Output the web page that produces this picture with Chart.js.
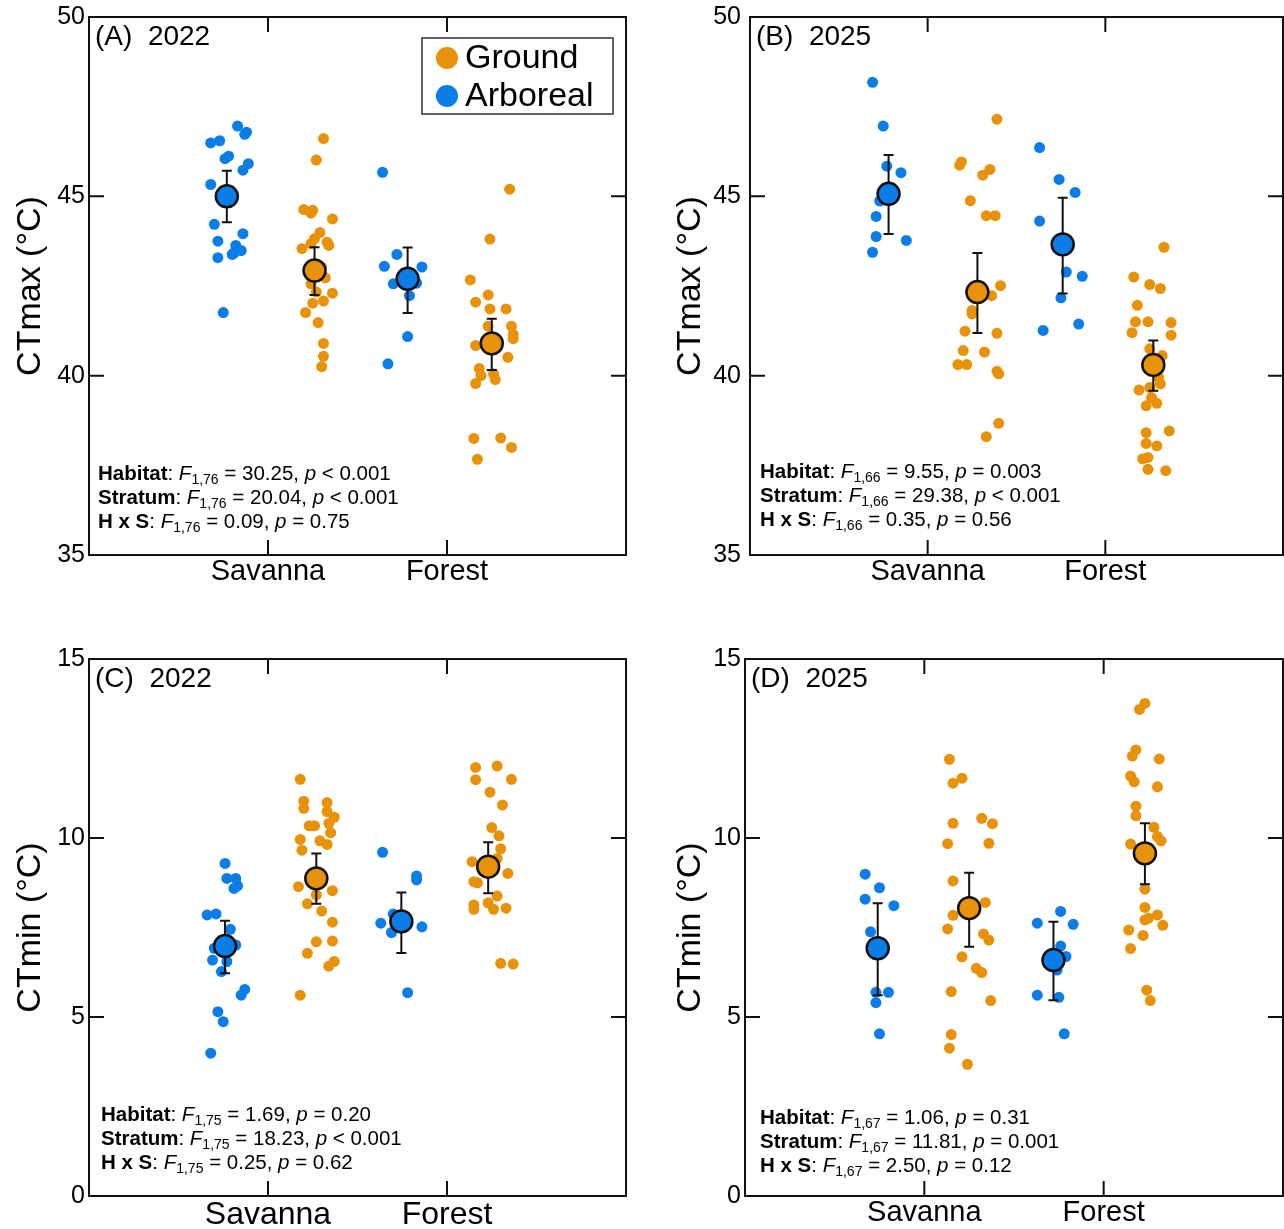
<!DOCTYPE html>
<html>
<head>
<meta charset="utf-8">
<script src="https://cdn.jsdelivr.net/npm/chart.js@4.4.1/dist/chart.umd.min.js"></script>
<style>
  html, body { margin: 0; padding: 0; background: #fff; }
  body { width: 1284px; height: 1229px; position: relative; overflow: hidden; }
  canvas { position: absolute; }
</style>
</head>
<body>
<canvas id="panelA" width="642" height="600" style="left:0;top:0"></canvas>
<canvas id="panelB" width="624" height="600" style="left:660px;top:0"></canvas>
<canvas id="panelC" width="642" height="599" style="left:0;top:630px"></canvas>
<canvas id="panelD" width="624" height="599" style="left:660px;top:630px"></canvas>
<script>
const categories = [ 'Savanna', 'Forest' ]
const seriesNames = [ 'Ground', 'Arboreal' ]
const ORANGE = '#E8920A'
const BLUE = '#0A7DE8'
const FONT = '"Liberation Sans", Arial, Helvetica, sans-serif'

// (A) 2022, CTmax
const aArbSavY = [ 46.96, 46.79, 46.73, 46.49, 46.55, 46.05, 46.12, 45.91, 45.73, 45.33, 44.22, 43.96, 43.75, 43.63, 43.49, 43.42, 43.38, 43.29, 41.76 ]
const aArbSavX = [ 0.83, 0.88, 0.87, 0.68, 0.73, 0.76, 0.78, 0.89, 0.86, 0.68, 0.70, 0.86, 0.72, 0.82, 0.85, 0.81, 0.80, 0.72, 0.75 ]
const aGrdSavY = [ 46.61, 46.01, 44.63, 44.61, 44.53, 44.37, 43.99, 43.82, 43.68, 43.72, 43.63, 43.54, 43.03, 42.73, 42.56, 42.33, 42.30, 42.08, 42.02, 41.76, 41.48, 40.90, 40.54, 40.25 ]
const aGrdSavX = [ 1.31, 1.27, 1.20, 1.25, 1.24, 1.36, 1.29, 1.26, 1.24, 1.33, 1.34, 1.19, 1.30, 1.32, 1.24, 1.27, 1.36, 1.31, 1.25, 1.21, 1.28, 1.31, 1.31, 1.30 ]
const aArbForY = [ 45.67, 43.38, 43.05, 43.03, 42.56, 42.58, 42.23, 41.09, 40.33 ]
const aArbForX = [ 1.64, 1.72, 1.65, 1.86, 1.70, 1.83, 1.79, 1.78, 1.67 ]
const aGrdForY = [ 45.20, 43.81, 42.67, 42.25, 42.05, 41.86, 41.86, 41.38, 41.38, 41.15, 41.03, 40.84, 40.51, 40.20, 40.00, 39.78, 40.05, 39.89, 38.25, 38.26, 38.00, 37.67 ]
const aGrdForX = [ 2.35, 2.24, 2.13, 2.23, 2.16, 2.24, 2.33, 2.23, 2.36, 2.37, 2.37, 2.16, 2.34, 2.18, 2.19, 2.16, 2.26, 2.27, 2.15, 2.30, 2.36, 2.17 ]
const aArbMean = [ 45.00, 42.70 ]
const aArbMeanX = [ 0.77, 1.78 ]
const aArbSE = [ [ 44.28, 45.71 ], [ 41.75, 43.57 ] ]
const aGrdMean = [ 42.93, 40.90 ]
const aGrdMeanX = [ 1.26, 2.25 ]
const aGrdSE = [ [ 42.25, 43.58 ], [ 40.16, 41.59 ] ]
const aStats = [ [ 'Habitat', '1,76', '30.25', '<', '0.001' ], [ 'Stratum', '1,76', '20.04', '<', '0.001' ], [ 'H x S', '1,76', '0.09', '=', '0.75' ] ]

// (B) 2025, CTmax
const bArbSavY = [ 48.18, 46.96, 45.84, 45.66, 44.87, 44.44, 43.88, 43.77, 43.44 ]
const bArbSavX = [ 0.69, 0.75, 0.77, 0.85, 0.73, 0.71, 0.71, 0.88, 0.69 ]
const bGrdSavY = [ 47.15, 45.96, 45.87, 45.75, 45.59, 44.88, 44.46, 44.46, 42.51, 42.23, 41.82, 41.72, 41.24, 41.18, 40.70, 40.66, 40.31, 40.31, 40.12, 40.05, 38.67, 38.30 ]
const bGrdSavX = [ 1.39, 1.19, 1.18, 1.35, 1.31, 1.24, 1.33, 1.38, 1.41, 1.36, 1.25, 1.25, 1.21, 1.39, 1.20, 1.32, 1.17, 1.22, 1.39, 1.40, 1.40, 1.33 ]
const bArbForY = [ 46.36, 45.47, 45.11, 44.31, 42.89, 42.77, 42.17, 41.44, 41.26 ]
const bArbForX = [ 1.63, 1.74, 1.83, 1.63, 1.78, 1.87, 1.75, 1.85, 1.65 ]
const bGrdForY = [ 43.58, 42.75, 42.54, 42.43, 41.96, 41.50, 41.50, 41.48, 41.20, 41.13, 40.75, 40.56, 39.95, 39.77, 39.67, 39.60, 39.39, 39.16, 39.23, 38.41, 38.46, 38.11, 38.04, 37.68, 37.72, 37.39, 37.35 ]
const bGrdForX = [ 2.33, 2.16, 2.25, 2.31, 2.18, 2.17, 2.24, 2.37, 2.15, 2.37, 2.25, 2.32, 2.30, 2.31, 2.25, 2.19, 2.26, 2.23, 2.29, 2.23, 2.36, 2.23, 2.29, 2.21, 2.24, 2.24, 2.34 ]
const bArbMean = [ 45.07, 43.66 ]
const bArbMeanX = [ 0.78, 1.76 ]
const bArbSE = [ [ 43.95, 46.15 ], [ 42.29, 44.96 ] ]
const bGrdMean = [ 42.33, 40.30 ]
const bGrdMeanX = [ 1.28, 2.27 ]
const bGrdSE = [ [ 41.19, 43.42 ], [ 39.58, 40.98 ] ]
const bStats = [ [ 'Habitat', '1,66', '9.55', '=', '0.003' ], [ 'Stratum', '1,66', '29.38', '<', '0.001' ], [ 'H x S', '1,66', '0.35', '=', '0.56' ] ]

// (C) 2022, CTmin
const cArbSavY = [ 9.29, 8.87, 8.87, 8.59, 8.66, 7.85, 7.88, 7.45, 6.92, 7.01, 6.59, 6.55, 6.27, 5.77, 5.61, 5.15, 4.87, 3.99 ]
const cArbSavX = [ 0.76, 0.77, 0.82, 0.81, 0.83, 0.66, 0.71, 0.79, 0.70, 0.82, 0.69, 0.77, 0.74, 0.87, 0.85, 0.72, 0.75, 0.68 ]
const cGrdSavY = [ 11.64, 11.03, 10.83, 10.99, 10.74, 10.58, 10.41, 10.34, 10.34, 10.15, 9.96, 9.92, 9.82, 9.66, 8.64, 8.53, 8.41, 8.16, 7.96, 7.65, 7.10, 7.12, 6.78, 6.55, 6.42, 5.61 ]
const cGrdSavX = [ 1.18, 1.20, 1.20, 1.33, 1.33, 1.37, 1.34, 1.23, 1.26, 1.35, 1.18, 1.29, 1.33, 1.19, 1.17, 1.36, 1.27, 1.22, 1.30, 1.36, 1.27, 1.36, 1.22, 1.37, 1.34, 1.18 ]
const cArbForY = [ 9.60, 8.94, 8.83, 7.88, 7.62, 7.52, 7.36, 5.68 ]
const cArbForX = [ 1.64, 1.83, 1.83, 1.70, 1.63, 1.86, 1.69, 1.78 ]
const cGrdForY = [ 11.97, 12.01, 11.63, 11.64, 11.28, 10.92, 10.29, 10.06, 9.70, 9.43, 9.34, 9.01, 8.78, 8.75, 8.38, 8.19, 8.13, 8.01, 8.01, 8.04, 6.50, 6.48 ]
const cGrdForX = [ 2.16, 2.28, 2.16, 2.36, 2.24, 2.31, 2.25, 2.29, 2.30, 2.28, 2.14, 2.34, 2.15, 2.17, 2.28, 2.23, 2.15, 2.15, 2.26, 2.33, 2.30, 2.37 ]
const cArbMean = [ 6.98, 7.67 ]
const cArbMeanX = [ 0.76, 1.745 ]
const cArbSE = [ [ 6.22, 7.69 ], [ 6.79, 8.48 ] ]
const cGrdMean = [ 8.87, 9.20 ]
const cGrdMeanX = [ 1.27, 2.23 ]
const cGrdSE = [ [ 8.16, 9.57 ], [ 8.46, 9.88 ] ]
const cStats = [ [ 'Habitat', '1,75', '1.69', '=', '0.20' ], [ 'Stratum', '1,75', '18.23', '<', '0.001' ], [ 'H x S', '1,75', '0.25', '=', '0.62' ] ]

// (D) 2025, CTmin
const dArbSavY = [ 8.99, 8.61, 8.29, 8.11, 7.38, 5.69, 5.69, 5.40, 4.53 ]
const dArbSavX = [ 0.67, 0.75, 0.67, 0.83, 0.70, 0.73, 0.80, 0.73, 0.75 ]
const dGrdSavY = [ 12.20, 11.67, 11.53, 10.41, 10.55, 10.40, 9.84, 9.85, 8.80, 8.20, 7.84, 7.46, 7.32, 7.15, 6.68, 6.36, 6.24, 5.71, 5.46, 4.51, 4.13, 3.68 ]
const dGrdSavX = [ 1.14, 1.21, 1.16, 1.16, 1.32, 1.38, 1.13, 1.36, 1.16, 1.34, 1.16, 1.13, 1.33, 1.36, 1.21, 1.29, 1.32, 1.15, 1.37, 1.15, 1.14, 1.24 ]
const dArbForY = [ 7.95, 7.62, 7.59, 6.98, 6.69, 6.31, 5.61, 5.55, 4.53 ]
const dArbForX = [ 1.76, 1.63, 1.83, 1.76, 1.79, 1.74, 1.63, 1.75, 1.78 ]
const dGrdForY = [ 13.76, 13.59, 12.46, 12.29, 12.21, 11.73, 11.57, 11.43, 10.89, 10.62, 10.30, 10.04, 9.92, 9.83, 8.57, 8.06, 7.85, 7.76, 7.71, 7.56, 7.43, 7.28, 6.91, 5.75, 5.46 ]
const dGrdForX = [ 2.23, 2.20, 2.18, 2.16, 2.31, 2.15, 2.17, 2.30, 2.18, 2.18, 2.28, 2.30, 2.32, 2.15, 2.23, 2.23, 2.30, 2.25, 2.23, 2.33, 2.14, 2.22, 2.15, 2.24, 2.26 ]
const dArbMean = [ 6.92, 6.59 ]
const dArbMeanX = [ 0.74, 1.72 ]
const dArbSE = [ [ 5.61, 8.18 ], [ 5.47, 7.66 ] ]
const dGrdMean = [ 8.04, 9.57 ]
const dGrdMeanX = [ 1.25, 2.23 ]
const dGrdSE = [ [ 6.96, 9.03 ], [ 8.71, 10.41 ] ]
const dStats = [ [ 'Habitat', '1,67', '1.06', '=', '0.31' ], [ 'Stratum', '1,67', '11.81', '=', '0.001' ], [ 'H x S', '1,67', '2.50', '=', '0.12' ] ]

const pts = ( xs, ys ) => xs.map( ( x, i ) => ( { x, y: ys[ i ] } ) )

function decoPlugin( cfg ) {
  return {
    id: 'deco',
    // error bars go under the mean markers
    beforeDatasetDraw( chart, args ) {
      const ds = chart.data.datasets[ args.index ]
      if ( !ds.err ) return
      const { ctx, scales: { x, y } } = chart
      ctx.save()
      ctx.strokeStyle = '#111'
      ctx.lineWidth = 2
      ds.data.forEach( ( d, i ) => {
        const px = x.getPixelForValue( d.x )
        const lo = y.getPixelForValue( ds.err[ i ][ 0 ] )
        const hi = y.getPixelForValue( ds.err[ i ][ 1 ] )
        ctx.beginPath()
        ctx.moveTo( px, lo ); ctx.lineTo( px, hi )
        ctx.moveTo( px - 5, lo ); ctx.lineTo( px + 5, lo )
        ctx.moveTo( px - 5, hi ); ctx.lineTo( px + 5, hi )
        ctx.stroke()
      } )
      ctx.restore()
    },
    afterDraw( chart ) {
      const { ctx, chartArea: a, scales: { x, y } } = chart
      ctx.save()
      // frame with inward ticks on all sides
      ctx.strokeStyle = '#111'
      ctx.lineWidth = 2
      ctx.strokeRect( a.left, a.top, a.width, a.height )
      const tl = 15
      ctx.beginPath()
      x.ticks.forEach( t => {
        const px = x.getPixelForValue( t.value )
        ctx.moveTo( px, a.bottom ); ctx.lineTo( px, a.bottom - tl )
        ctx.moveTo( px, a.top ); ctx.lineTo( px, a.top + tl )
      } )
      y.ticks.forEach( t => {
        const py = y.getPixelForValue( t.value )
        ctx.moveTo( a.left, py ); ctx.lineTo( a.left + tl, py )
        ctx.moveTo( a.right, py ); ctx.lineTo( a.right - tl, py )
      } )
      ctx.stroke()

      ctx.fillStyle = '#000'
      ctx.textBaseline = 'middle'
      ctx.textAlign = 'left'
      ctx.font = `28px ${FONT}`
      ctx.fillText( cfg.label, a.left + 6, a.top + 20 )

      // stats lines
      cfg.stats.forEach( ( l, i ) => {
        let px = a.left + cfg.statsX
        const py = a.bottom - cfg.statsY + i * 24
        const seg = ( txt, font, dy = 0 ) => {
          ctx.font = font
          ctx.fillText( txt, px, py + dy )
          px += ctx.measureText( txt ).width
        }
        seg( l[ 0 ], `bold 20.5px ${FONT}` )
        seg( ': ', `20.5px ${FONT}` )
        seg( 'F', `italic 20.5px ${FONT}` )
        seg( l[ 1 ], `14px ${FONT}`, 6 )
        seg( ` = ${l[ 2 ]}, `, `20.5px ${FONT}` )
        seg( 'p', `italic 20.5px ${FONT}` )
        seg( ` ${l[ 3 ]} ${l[ 4 ]}`, `20.5px ${FONT}` )
      } )

      if ( cfg.legend ) {
        const bx = a.left + 333, by = a.top + 21
        ctx.lineWidth = 1.5
        ctx.strokeStyle = '#333'
        ctx.strokeRect( bx, by, 191, 76 )
        const entries = chart.data.datasets.filter( ds => ds.legendEntry )
        entries.forEach( ( ds, i ) => {
          const cy = by + 20 + i * 38
          ctx.beginPath()
          ctx.fillStyle = ds.backgroundColor
          ctx.arc( bx + 25, cy, 11, 0, Math.PI * 2 )
          ctx.fill()
          ctx.fillStyle = '#000'
          ctx.font = `34px ${FONT}`
          ctx.fillText( ds.label, bx + 43, cy + 1 )
        } )
      }
      ctx.restore()
    }
  }
}

// keep the chart area where the layout padding puts it
const noScalePad = s => {
  s.paddingLeft = 0
  s.paddingRight = 0
  s.paddingTop = 0
  s.paddingBottom = 0
}

function makePanel( id, p ) {
  new Chart( document.getElementById( id ), {
    type: 'scatter',
    data: {
      datasets: [
        {
          label: seriesNames[ 0 ] + ' mean',
          data: pts( p.grdMeanX, p.grdMean ),
          err: p.grdSE,
          backgroundColor: ORANGE, borderColor: '#111', borderWidth: 2.5, pointRadius: 11
        },
        {
          label: seriesNames[ 1 ] + ' mean',
          data: pts( p.arbMeanX, p.arbMean ),
          err: p.arbSE,
          backgroundColor: BLUE, borderColor: '#111', borderWidth: 2.5, pointRadius: 11
        },
        {
          label: seriesNames[ 0 ],
          legendEntry: true,
          data: pts( p.grdSavX, p.grdSavY ).concat( pts( p.grdForX, p.grdForY ) ),
          backgroundColor: ORANGE, borderWidth: 0, pointRadius: 5.5
        },
        {
          label: seriesNames[ 1 ],
          legendEntry: true,
          data: pts( p.arbSavX, p.arbSavY ).concat( pts( p.arbForX, p.arbForY ) ),
          backgroundColor: BLUE, borderWidth: 0, pointRadius: 5.5
        }
      ]
    },
    options: {
      responsive: false,
      animation: false,
      devicePixelRatio: 1,
      events: [],
      layout: { autoPadding: false, padding: { left: 0, top: p.top, right: p.right, bottom: 0 } },
      plugins: { legend: { display: false }, tooltip: { enabled: false } },
      scales: {
        x: {
          type: 'linear', min: 0, max: 3,
          afterBuildTicks: s => { s.ticks = [ { value: 1 }, { value: 2 } ] },
          afterFit: s => { s.height = p.xH; noScalePad( s ) },
          grid: { display: false, drawTicks: false, tickLength: 0 },
          border: { display: false },
          ticks: {
            callback: v => categories[ v - 1 ],
            font: { family: FONT, size: p.xFont }, color: '#000',
            padding: 0, maxRotation: 0, autoSkip: false
          }
        },
        y: {
          min: p.yMin, max: p.yMax,
          afterFit: s => { s.width = p.yW; noScalePad( s ) },
          grid: { display: false, drawTicks: false, tickLength: 0 },
          border: { display: false },
          ticks: { stepSize: 5, font: { family: FONT, size: 25 }, color: '#000', padding: p.yPad },
          title: {
            display: true, text: p.yTitle, color: '#000',
            font: { family: FONT, size: 34 }, padding: { top: 10, bottom: 0 }
          }
        }
      }
    },
    plugins: [ decoPlugin( { label: p.label, stats: p.stats, statsX: p.statsX, statsY: p.statsY, legend: p.legend } ) ]
  } )
}

makePanel( 'panelA', {
  arbSavX: aArbSavX, arbSavY: aArbSavY, grdSavX: aGrdSavX, grdSavY: aGrdSavY,
  arbForX: aArbForX, arbForY: aArbForY, grdForX: aGrdForX, grdForY: aGrdForY,
  arbMean: aArbMean, arbMeanX: aArbMeanX, arbSE: aArbSE,
  grdMean: aGrdMean, grdMeanX: aGrdMeanX, grdSE: aGrdSE,
  stats: aStats, label: '(A)  2022', legend: true, yTitle: 'CTmax (°C)',
  yMin: 35, yMax: 50, top: 17, right: 16, xH: 45, yW: 89, yPad: 4, xFont: 29, statsX: 9, statsY: 81
} )

makePanel( 'panelB', {
  arbSavX: bArbSavX, arbSavY: bArbSavY, grdSavX: bGrdSavX, grdSavY: bGrdSavY,
  arbForX: bArbForX, arbForY: bArbForY, grdForX: bGrdForX, grdForY: bGrdForY,
  arbMean: bArbMean, arbMeanX: bArbMeanX, arbSE: bArbSE,
  grdMean: bGrdMean, grdMeanX: bGrdMeanX, grdSE: bGrdSE,
  stats: bStats, label: '(B)  2025', legend: false, yTitle: 'CTmax (°C)',
  yMin: 35, yMax: 50, top: 17, right: 1, xH: 45, yW: 90, yPad: 9, xFont: 29, statsX: 10, statsY: 83
} )

makePanel( 'panelC', {
  arbSavX: cArbSavX, arbSavY: cArbSavY, grdSavX: cGrdSavX, grdSavY: cGrdSavY,
  arbForX: cArbForX, arbForY: cArbForY, grdForX: cGrdForX, grdForY: cGrdForY,
  arbMean: cArbMean, arbMeanX: cArbMeanX, arbSE: cArbSE,
  grdMean: cGrdMean, grdMeanX: cGrdMeanX, grdSE: cGrdSE,
  stats: cStats, label: '(C)  2022', legend: false, yTitle: 'CTmin (°C)',
  yMin: 0, yMax: 15, top: 29, right: 16, xH: 33, yW: 89, yPad: 4, xFont: 32, statsX: 12, statsY: 81
} )

makePanel( 'panelD', {
  arbSavX: dArbSavX, arbSavY: dArbSavY, grdSavX: dGrdSavX, grdSavY: dGrdSavY,
  arbForX: dArbForX, arbForY: dArbForY, grdForX: dGrdForX, grdForY: dGrdForY,
  arbMean: dArbMean, arbMeanX: dArbMeanX, arbSE: dArbSE,
  grdMean: dGrdMean, grdMeanX: dGrdMeanX, grdSE: dGrdSE,
  stats: dStats, label: '(D)  2025', legend: false, yTitle: 'CTmin (°C)',
  yMin: 0, yMax: 15, top: 29, right: 1, xH: 33, yW: 85, yPad: 4, xFont: 29, statsX: 15, statsY: 78
} )
</script>
</body>
</html>
